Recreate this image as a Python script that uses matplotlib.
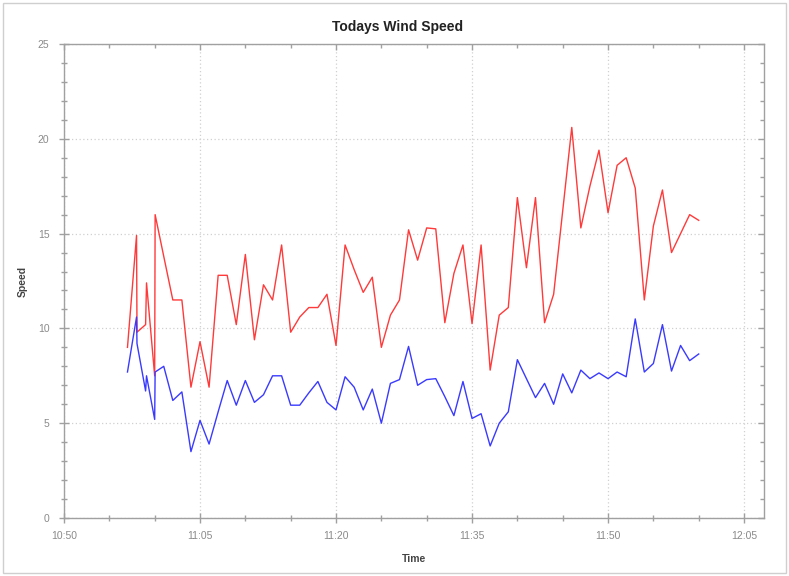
import matplotlib
matplotlib.use("Agg")
import matplotlib.pyplot as plt
import matplotlib.dates as mdates
import pandas as pd
from matplotlib.patches import Rectangle

# ---- data ----
times = ["10:57:00", "10:58:00", "10:58:03", "10:59:00", "10:59:06", "11:00:00", "11:00:03",
         "11:01", "11:02", "11:03", "11:04", "11:05", "11:06", "11:07", "11:08", "11:09", "11:10",
         "11:11", "11:12", "11:13", "11:14", "11:15", "11:16", "11:17", "11:18", "11:19", "11:20",
         "11:21", "11:22", "11:23", "11:24", "11:25", "11:26", "11:27", "11:28", "11:29", "11:30",
         "11:31", "11:32", "11:33", "11:34", "11:35", "11:36", "11:37", "11:38", "11:39", "11:40",
         "11:41", "11:42", "11:43", "11:44", "11:45", "11:46", "11:47", "11:48", "11:49", "11:50",
         "11:51", "11:52", "11:53", "11:54", "11:55", "11:56", "11:57", "11:58", "11:59", "12:00"]

gust = [9.0, 14.9, 9.8, 10.2, 12.4, 7.5, 16.0,
        13.8, 11.5, 11.5, 6.9, 9.3, 6.9, 12.8, 12.8, 10.2, 13.9,
        9.4, 12.3, 11.5, 14.4, 9.8, 10.6, 11.1, 11.1, 11.8, 9.1,
        14.4, 13.1, 11.9, 12.7, 9.0, 10.7, 11.5, 15.2, 13.6, 15.3,
        15.25, 10.3, 12.9, 14.4, 10.25, 14.4, 7.8, 10.7, 11.1, 16.9,
        13.2, 16.9, 10.3, 11.8, 16.2, 20.6, 15.3, 17.5, 19.4, 16.1,
        18.6, 19.0, 17.4, 11.5, 15.4, 17.3, 14.0, 15.0, 16.0, 15.7]

speed = [7.7, 10.6, 9.2, 6.7, 7.5, 5.2, 7.7,
         8.0, 6.2, 6.65, 3.5, 5.15, 3.9, 5.6, 7.25, 5.95, 7.25,
         6.1, 6.5, 7.5, 7.5, 5.95, 5.95, 6.6, 7.2, 6.1, 5.7,
         7.45, 6.9, 5.7, 6.8, 5.0, 7.1, 7.3, 9.05, 7.0, 7.3,
         7.35, 6.4, 5.4, 7.2, 5.25, 5.5, 3.8, 5.0, 5.6, 8.35,
         7.35, 6.35, 7.1, 6.0, 7.6, 6.6, 7.8, 7.35, 7.65, 7.35,
         7.7, 7.45, 10.5, 7.7, 8.15, 10.2, 7.75, 9.1, 8.3, 8.65]

title = "Todays Wind Speed"
xlabel = "Time"
ylabel = "Speed"
x_start = "10:50:00"
x_end = "12:07:12"
y_range = (0, 25)

day = "2024-01-01 "
t = pd.to_datetime([day + s for s in times], format="mixed")

plt.rcParams['font.family'] = ['Liberation Sans', 'DejaVu Sans']

fig = plt.figure(figsize=(7.89, 5.76), dpi=100)
fig.patch.set_facecolor("white")
ax = fig.add_axes([64 / 789, 1 - 518 / 576, 700 / 789, 474 / 576])

ax.plot(t, gust, color="#ff3a3a", lw=1.0, zorder=3)
ax.plot(t, speed, color="#3a3aff", lw=1.0, zorder=3)

xlim = (pd.Timestamp(day + x_start), pd.Timestamp(day + x_end))
ax.set_xlim(*xlim)
ax.set_ylim(*y_range)

ax.xaxis.set_major_locator(mdates.MinuteLocator(byminute=[5, 20, 35, 50]))
ax.xaxis.set_minor_locator(mdates.MinuteLocator(byminute=range(0, 60, 5)))
ax.xaxis.set_major_formatter(mdates.DateFormatter("%H:%M"))
ax.yaxis.set_major_locator(plt.MultipleLocator(5))
ax.yaxis.set_minor_locator(plt.MultipleLocator(1))

spine_c = "#a0a0a0"
for s in ax.spines.values():
    s.set_color(spine_c)
    s.set_linewidth(1.0)

ax.tick_params(axis="both", which="major", direction="inout", length=7, width=1,
               color=spine_c, labelcolor="#8a8a8a", labelsize=7.5)
ax.tick_params(axis="both", which="minor", direction="inout", length=5, width=1, color=spine_c)
ax.tick_params(axis="x", which="major", pad=6)
ax.tick_params(axis="y", which="major", pad=7)

ax.grid(True, which="major", color="#d0d0d0", linestyle=(0, (1, 2)), linewidth=0.9)

ax.set_xlabel(xlabel, fontsize=7.5, fontweight="bold", color="#444444", labelpad=9)
ax.set_ylabel(ylabel, fontsize=7.5, fontweight="bold", color="#444444", labelpad=7)

# inward ticks on top and right edges
axr = ax.twinx()
axr.set_ylim(*y_range)
axr.yaxis.set_major_locator(plt.MultipleLocator(5))
axr.yaxis.set_minor_locator(plt.MultipleLocator(1))
axr.tick_params(axis="y", which="major", direction="in", length=4, width=1, color=spine_c,
                labelright=False)
axr.tick_params(axis="y", which="minor", direction="in", length=3, width=1, color=spine_c)
axt = ax.twiny()
axt.set_xlim(*xlim)
axt.xaxis.set_major_locator(mdates.MinuteLocator(byminute=[5, 20, 35, 50]))
axt.xaxis.set_minor_locator(mdates.MinuteLocator(byminute=range(0, 60, 5)))
axt.tick_params(axis="x", which="major", direction="in", length=4, width=1, color=spine_c,
                labeltop=False)
axt.tick_params(axis="x", which="minor", direction="in", length=3, width=1, color=spine_c)
for a in (axr, axt):
    for s in a.spines.values():
        s.set_visible(False)

fig.text(398 / 789, 1 - 27 / 576, title, ha="center", va="center",
         fontsize=10, fontweight="bold", color="#222222")

fig.patches.append(Rectangle((3 / 789, 3 / 576), 783 / 789, 570 / 576, transform=fig.transFigure,
                             fill=False, edgecolor="#cfcfcf", linewidth=1.0))

fig.savefig("out.png", dpi=100)
